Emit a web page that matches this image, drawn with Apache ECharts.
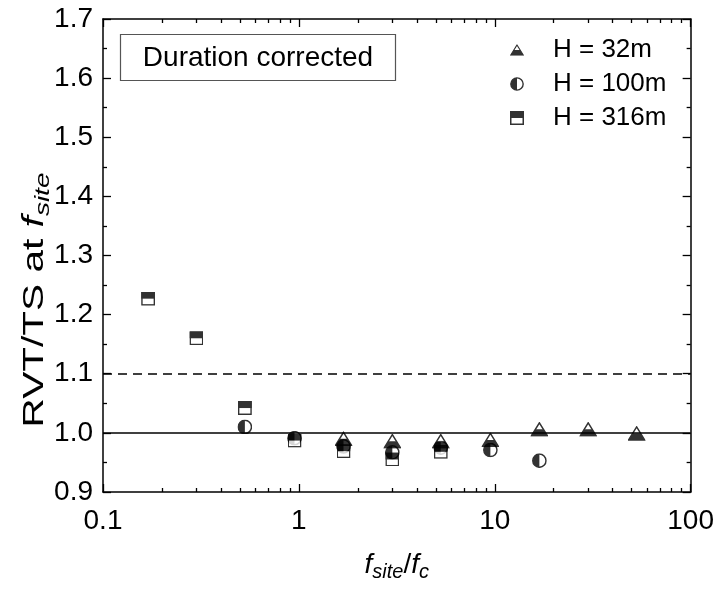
<!DOCTYPE html>
<html><head><meta charset="utf-8">
<script src="https://cdn.jsdelivr.net/npm/echarts@6/dist/echarts.min.js"></script>
<style>html,body{margin:0;padding:0;background:#fff}#c{width:717px;height:589px}</style>
</head><body><div id="c"></div>
<script>
// ---- data ----
const x32  = [1.69, 3.0, 5.3, 9.5, 16.9, 30, 53];
const y32  = [0.990, 0.986, 0.986, 0.988, 1.006, 1.006, 0.999];
const x100 = [0.53, 0.95, 1.69, 3.0, 5.3, 9.5, 16.9];
const y100 = [1.010, 0.991, 0.977, 0.967, 0.975, 0.971, 0.953];
const x316 = [0.17, 0.30, 0.53, 0.95, 1.69, 3.0, 5.3];
const y316 = [1.227, 1.160, 1.042, 0.987, 0.969, 0.955, 0.968];
const seriesNames = ['H = 32m', 'H = 100m', 'H = 316m'];
const refSolid = 1.0;
const refDashed = 1.1;

const FONT = 'Liberation Sans, Arial, sans-serif';
function pairs(xs, ys){ return xs.map((x,i)=>[x, ys[i]]); }
function svgUri(s){ return 'image://data:image/svg+xml;charset=utf-8,' + encodeURIComponent(s); }
const symSquare = svgUri("<svg xmlns='http://www.w3.org/2000/svg' width='14' height='14' viewBox='0 0 14 14'><rect x='0.75' y='0.75' width='12.5' height='12.5' fill='white' stroke='black' stroke-width='1.5'/><rect x='0' y='0' width='14' height='7' fill='black'/></svg>");
const symCircle = svgUri("<svg xmlns='http://www.w3.org/2000/svg' width='15' height='15' viewBox='0 0 15 15'><circle cx='7.5' cy='7.5' r='6.6' fill='white' stroke='black' stroke-width='1.5'/><path d='M7.5 0.9 A6.6 6.6 0 0 0 7.5 14.1 Z' fill='black'/></svg>");
const symTri = svgUri("<svg xmlns='http://www.w3.org/2000/svg' width='18' height='15' viewBox='0 0 18 15'><polygon points='9,1 17,14 1,14' fill='white' stroke='black' stroke-width='1.5' stroke-linejoin='miter'/><polygon points='5,7.5 13,7.5 17,14 1,14' fill='black'/></svg>");

const tickLine = {color:'#000', width:1.3};
function xAxisCfg(pos, labels){
  return {
    type:'log', logBase:10, min:0.1, max:100, position:pos,
    axisLine:{show:true, onZero:false, lineStyle:{color:'#000', width:1.5}},
    axisTick:{show:true, inside:true, length:8, lineStyle:tickLine},
    minorTick:{show:true, splitNumber:9, length:4, lineStyle:tickLine},
    splitLine:{show:false}, minorSplitLine:{show:false},
    axisLabel:{show:labels, fontSize:28, color:'#000', fontFamily:FONT, margin:15,
      formatter: v => String(Number(v.toPrecision(6)))},
    name: labels ? '{i|f}{s|site}{n|/}{i|f}{s|c}' : '',
    nameLocation:'middle', nameGap:56,
    nameTextStyle:{rich:{
      i:{fontSize:28, fontStyle:'italic', fontFamily:FONT, color:'#000', lineHeight:34},
      n:{fontSize:28, fontFamily:FONT, color:'#000', lineHeight:34},
      s:{fontSize:20, fontStyle:'italic', fontFamily:FONT, color:'#000', lineHeight:16, verticalAlign:'bottom'}
    }}
  };
}
function yAxisCfg(pos, labels){
  return {
    type:'value', min:0.9, max:1.7, interval:0.1, position:pos,
    axisLine:{show:true, onZero:false, lineStyle:{color:'#000', width:1.5}},
    axisTick:{show:true, inside:true, length:8, lineStyle:tickLine},
    minorTick:{show:true, splitNumber:2, length:4, lineStyle:tickLine},
    splitLine:{show:false},
    axisLabel:{show:labels, fontSize:28, color:'#000', fontFamily:FONT, margin:10,
      formatter: v => v.toFixed(1)}
  };
}

const chart = echarts.init(document.getElementById('c'), null, {renderer:'canvas'});
chart.setOption({
  backgroundColor:'#fff',
  animation:false,
  grid:{left:103, right:25, top:19, bottom:97, containLabel:false},
  xAxis:[xAxisCfg('bottom', true), xAxisCfg('top', false)],
  yAxis:[yAxisCfg('left', true), yAxisCfg('right', false)],
  legend:{
    data: seriesNames, orient:'vertical', left:505, top:32,
    itemWidth:14, itemHeight:14, itemGap:8,
    textStyle:{fontSize:26, fontFamily:FONT, color:'#000', padding:[0,0,0,24]},
    selectedMode:false
  },
  graphic:[
    {type:'rect', shape:{x:120.5, y:34.5, width:275, height:46}, style:{fill:'#fff', stroke:'#555', lineWidth:1.2}, z:100},
    {type:'text', x:258, y:58, style:{text:'Duration corrected', font:'28px '+FONT, fill:'#000', textAlign:'center', textVerticalAlign:'middle'}, z:101},
    {type:'text', x:35, y:300, rotation:Math.PI/2, scaleX:1.4, z:101,
     style:{text:'{n|RVT/TS at }{i|f}{s|site}', align:'center', verticalAlign:'middle',
       rich:{
         n:{fontSize:29, fontFamily:FONT, fill:'#000', lineHeight:36},
         i:{fontSize:29, fontStyle:'italic', fontFamily:FONT, fill:'#000', lineHeight:36},
         s:{fontSize:20, fontStyle:'italic', fontFamily:FONT, fill:'#000', lineHeight:17, verticalAlign:'bottom'}
       }}}
  ],
  series:[
    {name:seriesNames[0], type:'scatter', data:pairs(x32,y32), symbol:symTri, symbolSize:[18,15], z:4,
     markLine:{silent:true, symbol:'none', label:{show:false},
       data:[{yAxis:refSolid, lineStyle:{type:'solid', color:'#000', width:1.5}},
             {yAxis:refDashed, lineStyle:{type:[9,6], color:'#000', width:1.5}}]}},
    {name:seriesNames[1], type:'scatter', data:pairs(x100,y100), symbol:symCircle, symbolSize:15, z:2},
    {name:seriesNames[2], type:'scatter', data:pairs(x316,y316), symbol:symSquare, symbolSize:14, z:3}
  ]
});
</script></body></html>
